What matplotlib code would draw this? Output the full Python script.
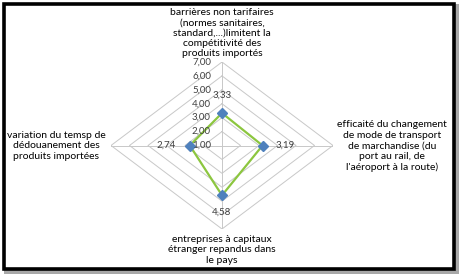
import numpy as np
import matplotlib.pyplot as plt
from matplotlib.patches import Rectangle

# categories clockwise from top
categories = [
    "barrières non tarifaires\n(normes sanitaires,\nstandard,...)limitent la\ncompétitivité des\nproduits importés",
    "efficaité du changement\nde mode de transport\nde marchandise (du\nport au rail, de\nl'aéroport à la route)",
    "entreprises à capitaux\nétranger repandus dans\nle pays",
    "variation du temsp de\ndédouanement des\nproduits importées",
]
values = [3.33, 3.19, 4.58, 2.74]
ring_values = [1, 2, 3, 4, 5, 6, 7]
ring_labels = ["1,00", "2,00", "3,00", "4,00", "5,00", "6,00", "7,00"]

r_min, r_max = 1, 7
W, H = 459, 274
plt.rcParams['font.family'] = ['Lato', 'DejaVu Sans']
txt_color = '#404040'
cat_fs = 7.5

fig = plt.figure(figsize=(W / 100, H / 100), dpi=100)
fig.patch.set_facecolor('white')

# radar area (diamond is stretched horizontally in the original)
ax = fig.add_axes([111 / W, 1 - 229 / H, 222 / W, 167 / H])
ax.set_xlim(-(r_max - r_min), r_max - r_min)
ax.set_ylim(-(r_max - r_min), r_max - r_min)
ax.axis('off')

angles = np.pi / 2 - np.arange(len(categories)) * np.pi / 2
cosa, sina = np.round(np.cos(angles), 6), np.round(np.sin(angles), 6)


def to_xy(v, i):
    r = v - r_min
    return r * cosa[i], r * sina[i]


# rings
for rv in ring_values[1:]:
    pts = [to_xy(rv, i) for i in range(len(categories))] + [to_xy(rv, 0)]
    xs, ys = zip(*pts)
    ax.plot(xs, ys, color='#c8c8c8', lw=0.7, zorder=1)
# spokes
for i in range(len(categories)):
    x, y = to_xy(r_max, i)
    ax.plot([0, x], [0, y], color='#c8c8c8', lw=0.7, zorder=1)

# series
pts = [to_xy(v, i) for i, v in enumerate(values)]
xs, ys = zip(*(pts + [pts[0]]))
ax.plot(xs, ys, color='#8cc63f', lw=1.6, zorder=2)
ax.plot(xs[:-1], ys[:-1], ls='none', marker='D', ms=5, color='#4f81bd', zorder=3)

# ring labels along the top spoke
for rv, lab in zip(ring_values, ring_labels):
    ax.text(-0.6, rv - r_min, lab, ha='right', va='center', fontsize=7,
            color=txt_color, clip_on=False)

# data labels
offsets = [(0, 1.25), (1.2, 0), (0, -1.2), (-1.25, 0)]
for i, v in enumerate(values):
    x, y = to_xy(v, i)
    dx, dy = offsets[i]
    ax.text(x + dx, y + dy, f"{v:.2f}".replace('.', ','), ha='center', va='center',
            fontsize=7, color=txt_color, clip_on=False)

# category labels
label_pos = [(222, 33), (392, 146), (222, 250), (56, 146)]
for lab, (px, py) in zip(categories, label_pos):
    fig.text(px / W, 1 - py / H, lab, ha='center', va='center', fontsize=cat_fs,
             color='black', linespacing=1.2)

# frame with shadow
fig.patches.append(Rectangle((4 / W, 0), 455 / W, 5 / H, transform=fig.transFigure,
                             facecolor='#a8a8a8', edgecolor='none'))
fig.patches.append(Rectangle((455 / W, 0), 4 / W, 270 / H, transform=fig.transFigure,
                             facecolor='#a8a8a8', edgecolor='none'))
fig.patches.append(Rectangle((3.5 / W, 1 - 268.5 / H), 450 / W, 265 / H,
                             transform=fig.transFigure, facecolor='none',
                             edgecolor='black', lw=2.6))

fig.savefig('out.png', dpi=100)
